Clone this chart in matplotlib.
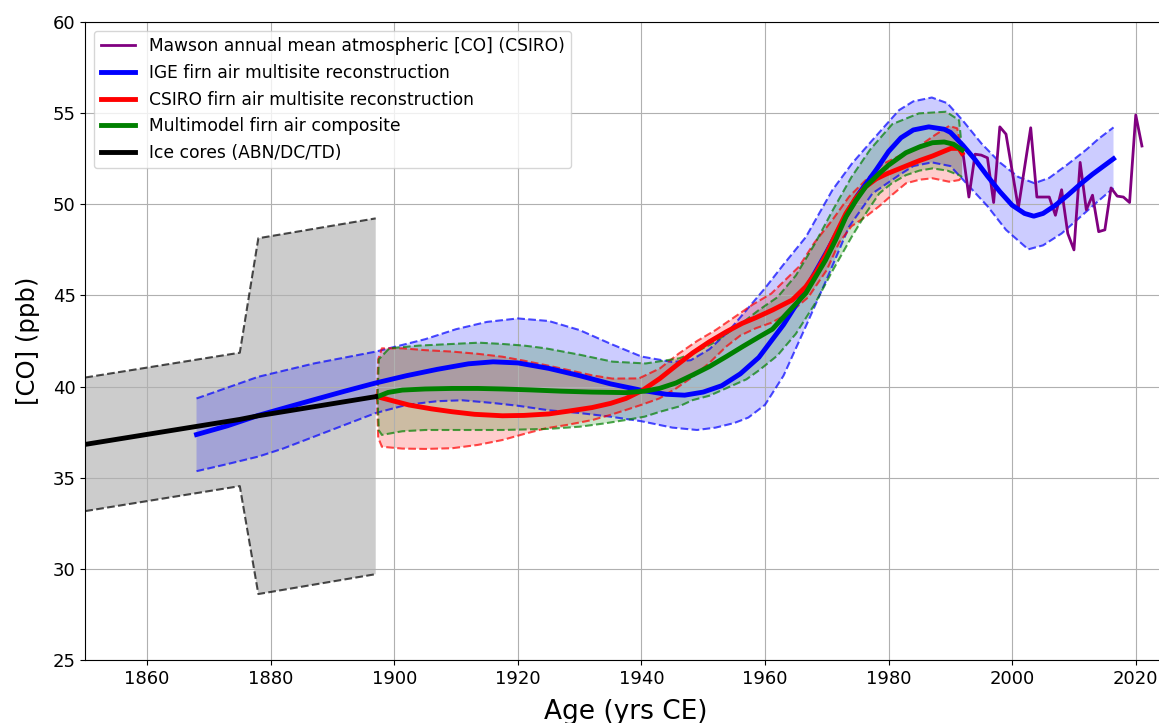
import numpy as np
import matplotlib
matplotlib.use("Agg")
import matplotlib.pyplot as plt

# Mawson annual means (CSIRO)
maw_yr = [1992, 1993, 1994, 1995, 1996, 1997, 1998, 1999, 2001, 2003, 2004, 2005,
          2006, 2007, 2008, 2009, 2010, 2011, 2012, 2013, 2014, 2015, 2016, 2017,
          2018, 2019, 2020, 2021]
maw_co = [52.9, 50.4, 52.75, 52.7, 52.55, 50.1, 54.25, 53.85, 49.8, 54.2, 50.4, 50.4,
          50.4, 49.4, 50.8, 48.4, 47.5, 52.3, 49.7, 50.5, 48.5, 48.6, 50.9, 50.45,
          50.4, 50.1, 54.9, 53.2]

# IGE firn air reconstruction
ige_yr = [1868, 1873, 1878, 1883, 1887, 1892, 1897, 1902, 1907, 1912, 1916, 1920,
          1925, 1930, 1935, 1940, 1944, 1947, 1950, 1953, 1956, 1959, 1961, 1963,
          1966, 1968, 1970, 1973, 1975, 1978, 1980, 1982, 1984, 1986.5, 1989, 1990,
          1992, 1994, 1996, 1998, 2000, 2002, 2003.5, 2005, 2007, 2009, 2011, 2013,
          2015, 2016.4]
ige_co = [37.37, 37.85, 38.42, 38.9, 39.28, 39.75, 40.2, 40.6, 40.95, 41.25, 41.36, 41.3,
          41.0, 40.6, 40.15, 39.8, 39.58, 39.53, 39.7, 40.05, 40.7, 41.6, 42.5, 43.4,
          45.0, 46.2, 47.4, 49.3, 50.5, 51.9, 52.9, 53.65, 54.08, 54.25, 54.12, 53.95,
          53.25, 52.45, 51.55, 50.7, 49.95, 49.5, 49.35, 49.5, 49.95, 50.5, 51.1, 51.65,
          52.15, 52.5]
ige_up_yr = [1868, 1878, 1887, 1897, 1905, 1910, 1915, 1920, 1925, 1930, 1935, 1940,
             1945, 1948, 1951, 1954, 1957, 1960, 1963, 1966.6, 1970.9, 1974.1, 1977.4,
             1981.7, 1984, 1987, 1989.5, 1992, 1995, 1998, 2001, 2003.6, 2006, 2009,
             2012, 2014, 2016.4]
ige_up = [39.35, 40.54, 41.27, 41.92, 42.6, 43.15, 43.55, 43.74, 43.6, 43.1, 42.35, 41.65,
          41.35, 41.45, 42.05, 43.0, 44.2, 45.4, 46.7, 48.2, 50.78, 52.25, 53.53,
          55.17, 55.65, 55.86, 55.55, 54.6, 53.35, 52.3, 51.5, 51.16, 51.45, 52.2,
          53.0, 53.6, 54.22]
ige_lo_yr = [1868, 1873, 1878, 1882, 1887, 1892, 1897, 1902, 1907, 1911, 1916, 1920,
             1925, 1930, 1935, 1940, 1945, 1949, 1952, 1955, 1957.3, 1960, 1963, 1966.6,
             1970, 1973.6, 1977.4, 1981.7, 1984, 1987, 1990, 1993, 1996, 1999, 2002.6,
             2005, 2008, 2011, 2014, 2016.4]
ige_lo = [35.36, 35.75, 36.16, 36.6, 37.25, 37.9, 38.55, 39.0, 39.2, 39.25, 39.1, 38.95,
          38.7, 38.55, 38.35, 38.1, 37.75, 37.62, 37.75, 38.0, 38.3, 39.0, 40.6, 43.3,
          45.9, 48.77, 50.6, 51.6, 52.1, 52.3, 52.1, 51.0, 49.9, 48.6, 47.53,
          47.75, 48.4, 49.3, 50.2, 50.89]

# CSIRO firn air reconstruction
csiro_yr = [1897.2, 1900, 1902.4, 1906, 1909.4, 1913, 1917.5, 1921, 1925, 1928.3, 1932,
            1935, 1937.5, 1940.2, 1943, 1945.6, 1948.3, 1951, 1953.7, 1956.3, 1958.5,
            1961.2, 1964.4, 1966.6, 1968.3, 1969.8, 1971.5, 1973.1, 1974.7, 1976.3, 1978,
            1979.6, 1982.8, 1985, 1987.1, 1990.1, 1991.4, 1991.9]
csiro_co = [39.45, 39.2, 38.99, 38.78, 38.62, 38.48, 38.4, 38.42, 38.5, 38.66, 38.85,
            39.08, 39.35, 39.8, 40.45, 41.15, 41.85, 42.46, 43.0, 43.47, 43.78,
            44.2, 44.75, 45.48, 46.3, 47.2, 48.4, 49.5, 50.35, 50.97, 51.4,
            51.66, 52.1, 52.4, 52.65, 53.07, 53.07, 52.8]
csiro_up_yr = [1897.2, 1897.4, 1898, 1901.3, 1905, 1909.4, 1913.5, 1917.5, 1921, 1924.5,
               1928.3, 1932, 1935.3, 1939.6, 1943, 1946, 1949, 1952, 1955, 1958, 1961,
               1965.5, 1968, 1970.9, 1973.6, 1976.3, 1979, 1982, 1985, 1987.5, 1989.8,
               1991.1, 1991.9]
csiro_up = [39.45, 41.5, 42.1, 42.1, 42.0, 41.92, 41.8, 41.64, 41.42, 41.18,
            40.9, 40.62, 40.44, 40.45, 41.0, 41.8, 42.5, 43.1, 43.8, 44.5, 45.1,
            46.58, 47.9, 49.14, 50.42, 51.33, 52.2, 52.7, 53.2, 53.8, 54.3,
            54.17, 52.8]
csiro_lo_yr = [1897.2, 1897.4, 1898, 1901.3, 1905, 1909.4, 1913.5, 1917.5, 1921, 1924.5,
               1928, 1932.1, 1935, 1937.5, 1940, 1942.9, 1945.6, 1948.3, 1951, 1953.7,
               1956, 1958.5, 1961, 1964, 1967, 1970, 1972, 1974, 1976.3, 1978.5, 1980.5,
               1982.8, 1985, 1987.1, 1989.8, 1991.4, 1991.9]
csiro_lo = [39.45, 37.2, 36.7, 36.6, 36.58, 36.62, 36.8, 37.07, 37.4, 37.71,
            37.9, 38.17, 38.45, 38.72, 39.0, 39.35, 39.9, 40.54, 41.3, 42.19,
            42.8, 43.2, 43.5, 44.05, 44.9, 46.4, 47.9, 48.8, 49.32, 49.9, 50.5,
            51.15, 51.35, 51.43, 51.24, 51.33, 51.5]

# multimodel composite
mm_yr = [1897.3, 1899, 1901.3, 1905, 1909.4, 1913.5, 1917.5, 1922, 1927, 1932, 1937.5,
         1940.5, 1942.9, 1945.6, 1948.3, 1951, 1953.7, 1956.4, 1959.1, 1961.2, 1963.5,
         1966.6, 1969.8, 1971.5, 1973.1, 1974.7, 1976.3, 1978.5, 1980, 1982.8, 1985,
         1987.1, 1989, 1990.5, 1991.9]
mm_co = [39.45, 39.68, 39.81, 39.87, 39.9, 39.9, 39.87, 39.82, 39.75, 39.7, 39.67,
         39.75, 39.9, 40.2, 40.64, 41.1, 41.64, 42.2, 42.74, 43.15, 44.0,
         45.12, 46.94, 48.1, 49.32, 50.2, 50.97, 51.7, 52.15, 52.83, 53.15,
         53.38, 53.42, 53.3, 52.98]
mm_up_yr = [1897.3, 1897.5, 1899.2, 1904, 1909.4, 1913.7, 1917.5, 1921, 1924.5, 1930,
            1935.3, 1940.7, 1946.1, 1948.5, 1951.5, 1954, 1956.9, 1959, 1962, 1965,
            1968, 1971, 1974, 1977, 1980.6, 1984.9, 1989.3, 1991.4, 1991.9]
mm_up = [39.45, 41.5, 42.1, 42.25, 42.34, 42.41, 42.34, 42.25, 42.1, 41.75,
         41.37, 41.27, 41.55, 41.85, 42.37, 42.95, 43.65, 44.2, 44.9, 46.1,
         47.8, 49.7, 51.5, 53.0, 54.4, 54.99, 55.08, 54.62, 52.98]
mm_lo_yr = [1897.3, 1897.5, 1898, 1901.3, 1905, 1909.4, 1917.5, 1925, 1930, 1934, 1937.5,
            1940.5, 1943, 1946, 1948.3, 1951, 1954, 1957, 1959.1, 1962, 1965, 1968,
            1971, 1974, 1976.5, 1978.5, 1980.5, 1982.8, 1985, 1987.1, 1989.5, 1991.4,
            1991.9]
mm_lo = [39.45, 37.6, 37.35, 37.55, 37.62, 37.62, 37.62, 37.68, 37.8, 37.98, 38.17,
         38.35, 38.62, 38.9, 39.26, 39.5, 39.95, 40.4, 40.91, 41.7, 42.9, 44.5,
         46.4, 48.2, 49.6, 50.6, 51.15, 51.6, 51.85, 51.97, 51.85, 51.6, 51.5]

# ice cores (ABN/DC/TD)
ice_yr = [1850, 1875, 1878, 1897]
ice_co = [36.83, 38.2, 38.4, 39.45]
ice_up = [40.5, 41.86, 48.14, 49.23]
ice_lo = [33.17, 34.54, 28.62, 29.71]


def band(ax, x_up, y_up, x_lo, y_lo, col, alpha):
    px = list(x_up) + list(x_lo)[::-1]
    py = list(y_up) + list(y_lo)[::-1]
    ax.fill(px, py, color=col, alpha=alpha, lw=0)
    ax.plot(x_up, y_up, '--', color=col, alpha=0.7, lw=1.5)
    ax.plot(x_lo, y_lo, '--', color=col, alpha=0.7, lw=1.5)


fig = plt.figure(figsize=(11.59, 7.23), dpi=100)
ax = fig.add_axes([0.0736, 0.0871, 0.933, 0.8824])

band(ax, ice_yr, ice_up, ice_yr, ice_lo, 'black', 0.2)
band(ax, ige_up_yr, ige_up, ige_lo_yr, ige_lo, 'blue', 0.2)
band(ax, csiro_up_yr, csiro_up, csiro_lo_yr, csiro_lo, 'red', 0.2)
band(ax, mm_up_yr, mm_up, mm_lo_yr, mm_lo, 'green', 0.2)

ax.plot(maw_yr, maw_co, color='purple', lw=2,
        label='Mawson annual mean atmospheric [CO] (CSIRO)')
ax.plot(ige_yr, ige_co, color='blue', lw=3.5, label='IGE firn air multisite reconstruction')
ax.plot(csiro_yr, csiro_co, color='red', lw=3.5, label='CSIRO firn air multisite reconstruction')
ax.plot(mm_yr, mm_co, color='green', lw=3.5, label='Multimodel firn air composite')
ax.plot(ice_yr, ice_co, color='black', lw=3.5, label='Ice cores (ABN/DC/TD)')

ax.set_xlim(1850, 2025)
ax.set_ylim(25, 60)
ax.set_xticks(np.arange(1860, 2021, 20))
ax.set_yticks(np.arange(25, 61, 5))
ax.tick_params(labelsize=13)
ax.grid(True)
ax.set_xlabel('Age (yrs CE)', fontsize=19, labelpad=8)
ax.set_ylabel('[CO] (ppb)', fontsize=17.5, labelpad=9)
ax.legend(loc='upper left', fontsize=12.3)

fig.savefig('out.png', dpi=100)
